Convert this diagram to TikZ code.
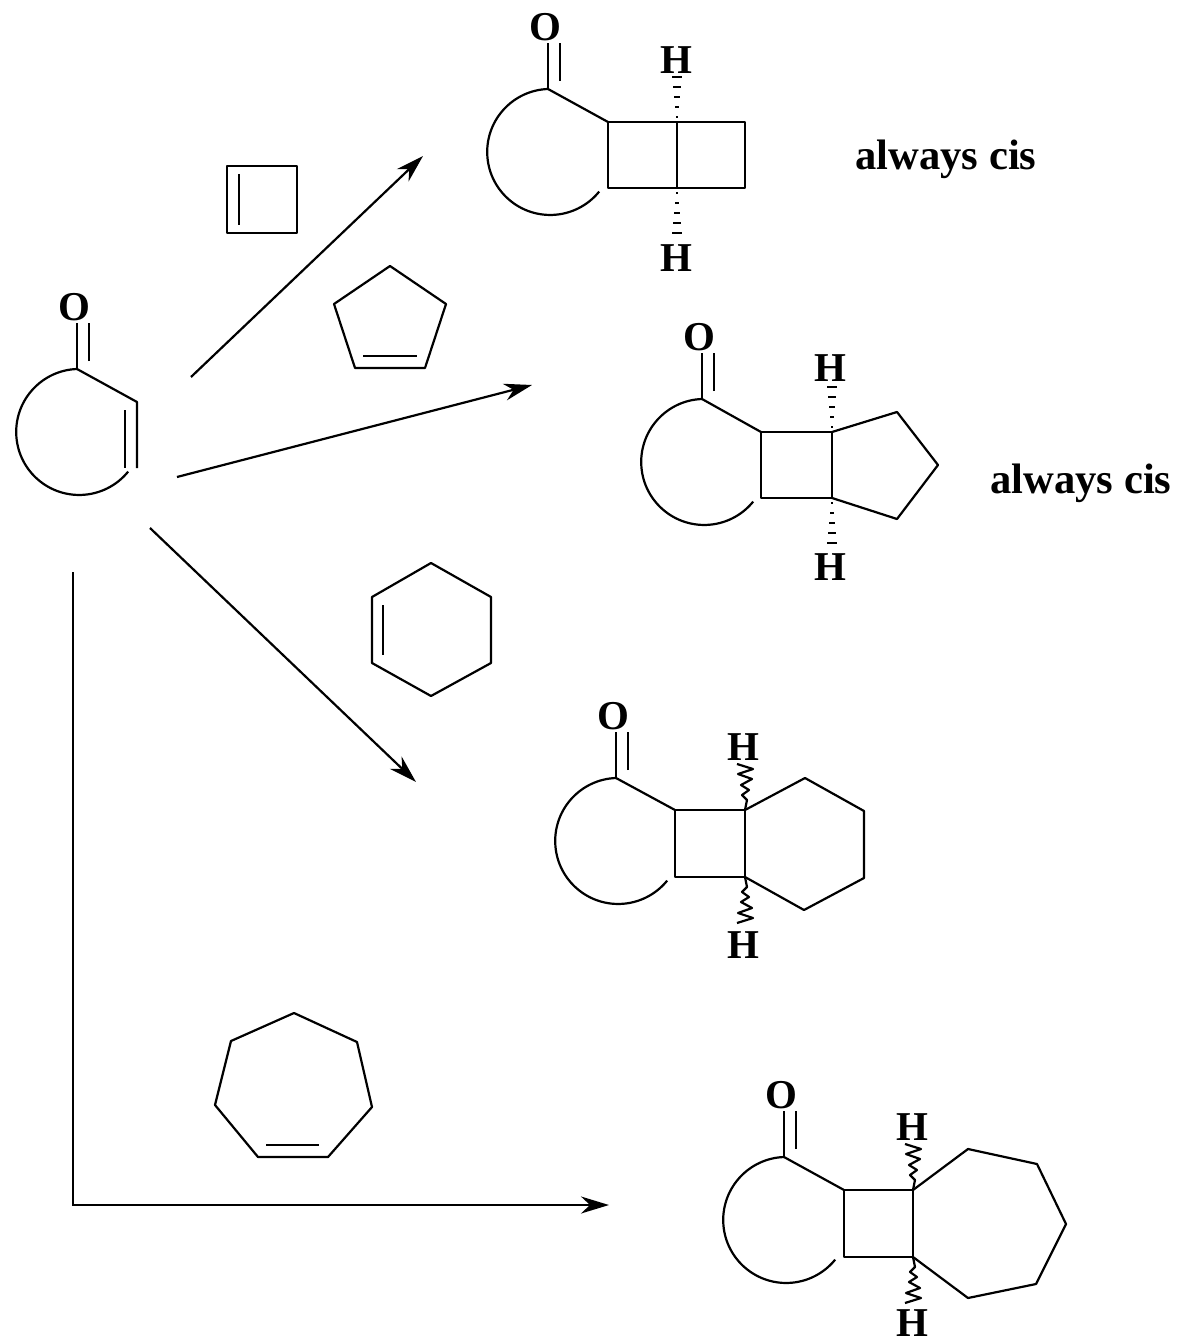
\documentclass[tikz,border=0pt]{standalone}
\usepackage{fontspec}
\setmainfont{Liberation Serif}
\usetikzlibrary{arrows.meta}
\tikzset{
  x=0.5pt,y=-0.5pt,
  bond/.style={line width=1.1pt,line join=round,line cap=butt},
  rxn/.style={line width=1.1pt,line join=miter,-{Stealth[length=14pt,width=8.5pt,inset=4.5pt]}},
  atom/.style={font=\fontsize{20.5}{21}\bfseries\selectfont,inner sep=0pt},
  note/.style={font=\fontsize{21.3}{22}\bfseries\selectfont,inner sep=0pt},
  keto/.pic={
    \node[atom] (-O) at (-3,-62) {O};
    \coordinate (-C) at (0,0);
    \draw[bond] (-C) -- (0,-46);
    \draw[bond] (12,-8) -- (12,-46);
    \draw[bond] (-C) arc[start angle=-92,delta angle=-229,radius=63];
  },
  hash/.pic={
    \foreach \i/\w in {1/2,2/4,3/6,4/8,5/10}{
      \draw[line width=1.2pt] (-\w/2,-10*\i+5) -- (\w/2,-10*\i+5);
    }
  },
  wavy/.pic={
    \draw[line width=1.1pt,line join=round] (0,0) -- (2,-10) -- (-3,-15) -- (4,-20) -- (-4,-25) -- (7,-31) -- (-7,-36) -- (8,-41) -- (-8,-46);
  }
}
\begin{document}
\begin{tikzpicture}
\useasboundingbox (0,0) rectangle (1180,1342);
% reactant
\pic (r) at (77,369) {keto};
\coordinate (ra) at (137,402);
\coordinate (rb) at (137,468);
\draw[bond] (r-C) -- (ra) -- (rb);
\draw[bond] (125,410) -- (125,468);
% arrows
\coordinate (a1s) at (191,377); \coordinate (a1e) at (423,156);
\coordinate (a2s) at (177,477); \coordinate (a2e) at (532,385);
\coordinate (a3s) at (150,528); \coordinate (a3e) at (416,782);
\coordinate (a4s) at (73,572); \coordinate (a4m) at (73,1205); \coordinate (a4e) at (609,1205);
\draw[rxn] (a1s) -- (a1e);
\draw[rxn] (a2s) -- (a2e);
\draw[rxn] (a3s) -- (a3e);
\draw[rxn] (a4s) -- (a4m) -- (a4e);
% dienophiles
\draw[bond] (227,166) rectangle (297,233);
\draw[bond] (239,174) -- (239,225);
\draw[bond] (390,266) -- (446,304) -- (425,368) -- (355,368) -- (334,304) -- cycle;
\draw[bond] (363,356) -- (417,356);
\draw[bond] (431,563) -- (491,597) -- (491,663) -- (431,696) -- (372,663) -- (372,597) -- cycle;
\draw[bond] (383,605) -- (383,655);
\draw[bond] (294,1013) -- (357,1042) -- (372,1107) -- (328,1157) -- (258,1157) -- (215,1105) -- (231,1041) -- cycle;
\draw[bond] (266,1145) -- (319,1145);
% product 1
\pic (p) at (548,89) {keto};
\draw[bond] (p-C) -- (608,122);
\draw[bond] (608,122) -- (745,122) -- (745,188) -- (608,188) -- cycle;
\draw[bond] (677,122) -- (677,188);
\pic at (677,122) {hash};
\pic[yscale=-1] at (677,188) {hash};
\node[atom] (ph1) at (676,60) {H};
\node[atom] (ph2) at (676,258) {H};
\node[note] (n1) at (946,159) {always cis};
% product 2
\pic (q) at (702,399) {keto};
\draw[bond] (q-C) -- (761,432);
\draw[bond] (761,432) -- (832,432) -- (832,498) -- (761,498) -- cycle;
\draw[bond] (832,432) -- (897,412) -- (938,465) -- (897,519) -- (832,498);
\pic at (832,432) {hash};
\pic[yscale=-1] at (832,498) {hash};
\node[atom] (qh1) at (830,368) {H};
\node[atom] (qh2) at (830,567) {H};
\node[note] (n2) at (1081,483) {always cis};
% product 3
\pic (s) at (616,778) {keto};
\draw[bond] (s-C) -- (675,810);
\draw[bond] (675,810) -- (745,810) -- (745,877) -- (675,877) -- cycle;
\draw[bond] (745,810) -- (805,778) -- (864,811) -- (864,878) -- (804,910) -- (745,877);
\pic at (745,810) {wavy};
\pic[yscale=-1] at (745,877) {wavy};
\node[atom] (sh1) at (743,747) {H};
\node[atom] (sh2) at (743,945) {H};
% product 4
\pic (t) at (784,1157) {keto};
\draw[bond] (t-C) -- (844,1190);
\draw[bond] (844,1190) -- (913,1190) -- (913,1257) -- (844,1257) -- cycle;
\draw[bond] (913,1190) -- (968,1149) -- (1037,1164) -- (1066,1224) -- (1036,1284) -- (968,1298) -- (913,1257);
\pic at (913,1190) {wavy};
\pic[yscale=-1] at (913,1257) {wavy};
\node[atom] (th1) at (912,1127) {H};
\node[atom] (th2) at (912,1323) {H};
\end{tikzpicture}
\end{document}
